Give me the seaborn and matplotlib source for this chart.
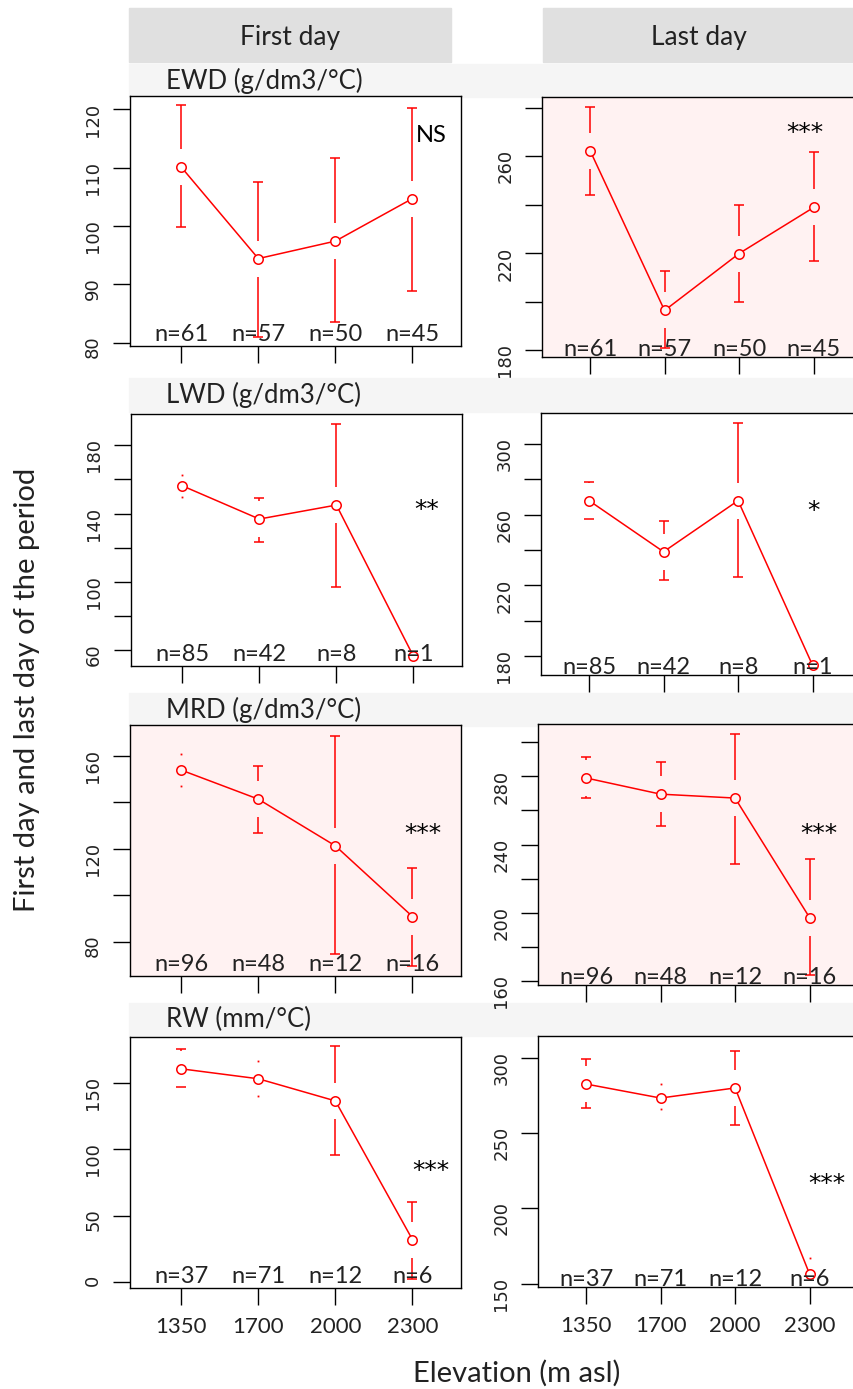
import numpy as np
import pandas as pd
import matplotlib
matplotlib.use("Agg")
import matplotlib.pyplot as plt
import seaborn as sns
from matplotlib.patches import Rectangle

sns.set_style("white")
plt.rcParams['font.family'] = ['Lato', 'DejaVu Sans']

# ---------------- data ----------------
elevations = ['1350', '1700', '2000', '2300']
columns = ['First day', 'Last day']
variables = ['EWD (g/dm3/°C)', 'LWD (g/dm3/°C)', 'MRD (g/dm3/°C)', 'RW (mm/°C)']

ewd_first_mean = [110.1, 94.4, 97.4, 104.7]
ewd_first_lo = [99.8, 81.0, 83.6, 88.9]
ewd_first_hi = [120.7, 107.5, 111.6, 120.2]
ewd_last_mean = [262.4, 196.4, 219.9, 238.9]
ewd_last_lo = [243.9, 181.1, 200.1, 216.8]
ewd_last_hi = [280.3, 212.5, 240.1, 261.8]
ewd_n = [61, 57, 50, 45]

lwd_first_mean = [156.3, 136.8, 145.0, 56.3]
lwd_first_lo = [150.0, 123.6, 97.2, np.nan]
lwd_first_hi = [162.8, 149.1, 192.6, np.nan]
lwd_last_mean = [267.9, 239.0, 267.9, 174.9]
lwd_last_lo = [257.4, 222.8, 224.5, np.nan]
lwd_last_hi = [278.6, 256.4, 311.5, np.nan]
lwd_n = [85, 42, 8, 1]

mrd_first_mean = [153.8, 141.3, 121.2, 90.8]
mrd_first_lo = [147.1, 126.7, 74.5, 69.7]
mrd_first_hi = [160.6, 155.6, 168.6, 111.6]
mrd_last_mean = [279.1, 269.6, 267.3, 197.1]
mrd_last_lo = [267.3, 251.0, 228.6, 163.4]
mrd_last_hi = [291.2, 288.6, 305.1, 231.4]
mrd_n = [96, 48, 12, 16]

rw_first_mean = [160.8, 153.3, 136.6, 32.0]
rw_first_lo = [147.0, 140.4, 95.7, 2.5]
rw_first_hi = [175.6, 166.4, 177.7, 60.5]
rw_last_mean = [282.6, 273.3, 280.0, 156.4]
rw_last_lo = [266.9, 265.8, 255.2, 147.1]
rw_last_hi = [299.0, 282.4, 304.7, 167.0]
rw_n = [37, 71, 12, 6]

significance = [['NS', '***'], ['**', '*'], ['***', '***'], ['***', '***']]

yticks = [[[80, 90, 100, 110, 120], [180, 200, 220, 240, 260, 280]],
          [[60, 80, 100, 120, 140, 160, 180], [180, 200, 220, 240, 260, 280, 300]],
          [[80, 100, 120, 140, 160], [160, 180, 200, 220, 240, 260, 280, 300]],
          [[0, 50, 100, 150], [150, 200, 250, 300]]]
ylabeled = [[[80, 90, 100, 110, 120], [180, 220, 260]],
            [[60, 100, 140, 180], [180, 220, 260, 300]],
            [[80, 120, 160], [160, 200, 240, 280]],
            [[0, 50, 100, 150], [150, 200, 250, 300]]]

# ---------------- layout (pixels) ----------------
W, H = 854, 1389
fig = plt.figure(figsize=(W / 100, H / 100), dpi=100)
fig.patch.set_facecolor('white')

def rect(x0, y0, x1, y1):
    return [x0 / W, 1 - y1 / H, (x1 - x0) / W, (y1 - y0) / H]

boxes = [[(130, 96, 461, 346), (542, 97, 862, 357)],
         [(131, 414, 462, 666), (541, 413, 861, 675)],
         [(130, 725, 461, 976), (538, 724, 858, 985)],
         [(130, 1037, 461, 1288), (538, 1036, 858, 1287)]]
ylims = [[(79.4, 122.3), (177.2, 284.5)],
         [(50.6, 198.4), (169.4, 317.4)],
         [(65.2, 173.2), (157.5, 310.8)],
         [(-4.5, 184.8), (147.8, 314.5)]]
xlims = [(0.335, 4.63), (0.355, 4.65)]
bgs = [['white', '#fff2f2'], ['white', 'white'], ['#fff2f2', '#fff2f2'], ['white', 'white']]
sig_pos = [[(0.911, 0.816), (0.822, 0.835)],
           [(0.892, 0.590), (0.853, 0.601)],
           [(0.886, 0.539), (0.879, 0.550)],
           [(0.909, 0.437), (0.902, 0.381)]]
strip_y = [(64, 97), (378, 412), (693, 726), (1003, 1036)]
n_offset = [8, 5.5]
txt = '#222222'

# header boxes
for (x0, x1), label in zip([(129, 451), (543, 854)], columns):
    fig.patches.append(Rectangle((x0 / W, 1 - 62 / H), (x1 - x0) / W, 54 / H,
                                 transform=fig.transFigure, color='#e0e0e0', zorder=-1))
    fig.text((x0 + x1) / 2 / W, 1 - 37 / H, label, ha='center', va='center',
             fontsize=19, color=txt)

# strips
for (y0, y1), label in zip(strip_y, variables):
    fig.patches.append(Rectangle((129 / W, 1 - y1 / H), (854 - 129) / W, (y1 - y0) / H,
                                 transform=fig.transFigure, color='#f5f5f5', zorder=-1))
    fig.text(166 / W, 1 - (y0 + y1) / 2 / H, label, ha='left', va='center',
             fontsize=18.5, color=txt)

series = [
    [(ewd_first_mean, ewd_first_lo, ewd_first_hi), (ewd_last_mean, ewd_last_lo, ewd_last_hi), ewd_n],
    [(lwd_first_mean, lwd_first_lo, lwd_first_hi), (lwd_last_mean, lwd_last_lo, lwd_last_hi), lwd_n],
    [(mrd_first_mean, mrd_first_lo, mrd_first_hi), (mrd_last_mean, mrd_last_lo, mrd_last_hi), mrd_n],
    [(rw_first_mean, rw_first_lo, rw_first_hi), (rw_last_mean, rw_last_lo, rw_last_hi), rw_n],
]

x = np.arange(1, 5)
for r in range(4):
    for c in range(2):
        mean, lo, hi = series[r][c]
        nvals = series[r][2]
        box = boxes[r][c]
        ax = fig.add_axes(rect(*box))
        bg = bgs[r][c]
        ax.set_facecolor(bg)
        df = pd.DataFrame({'elev': x, 'value': mean})
        sns.lineplot(data=df, x='elev', y='value', ax=ax, color='red', lw=1.1,
                     marker='o', markersize=6.8, markerfacecolor=bg,
                     markeredgecolor='red', markeredgewidth=1.1, zorder=3)
        ax.set_xlim(*xlims[c])
        ax.set_ylim(*ylims[r][c])
        hpx = box[3] - box[1]
        wpx = box[2] - box[0]
        yl = ylims[r][c]
        gap = 18 * (yl[1] - yl[0]) / hpx
        cw = 5 * (xlims[c][1] - xlims[c][0]) / wpx
        for xi, m, l, h in zip(x, mean, lo, hi):
            if np.isnan(l):
                continue
            for b, s in ((h, 1), (l, -1)):
                if (b - m) * s > gap:
                    ax.vlines(xi, m + s * gap, b, color='red', lw=1.1)
                    ax.hlines(b, xi - cw, xi + cw, color='red', lw=1.1)
                else:
                    ax.plot([xi], [b], marker='s', ms=1.3, color='red', mew=0)
        for xi, nv in zip(x, nvals):
            ax.annotate(f'n={nv}', xy=(xi, 0), xycoords=('data', 'axes fraction'),
                        xytext=(0, n_offset[c]), textcoords='offset points',
                        ha='center', va='center', fontsize=17, color=txt, zorder=4)
        sx, sy = sig_pos[r][c]
        sig = significance[r][c]
        if sig == 'NS':
            ax.text(sx, sy, sig, transform=ax.transAxes, ha='center', va='baseline',
                    fontsize=17, color='black')
        else:
            ax.text(sx, sy, sig, transform=ax.transAxes, ha='center', va='baseline',
                    fontsize=18, color='black', family='DejaVu Sans')
        ax.set_yticks(yticks[r][c])
        ax.set_yticklabels([str(t) if t in ylabeled[r][c] else '' for t in yticks[r][c]],
                           fontfamily='DejaVu Sans', fontsize=13, color=txt)
        ax.set_xticks(x)
        if r == 3:
            ax.set_xticklabels(elevations, fontsize=16, color=txt)
        else:
            ax.set_xticklabels([])
        ax.tick_params(axis='y', length=12, width=1, pad=8, labelrotation=90, left=True,
                       color='black')
        ax.tick_params(axis='x', length=12, width=1, pad=9, bottom=True, color='black')
        ax.set_xlabel('')
        ax.set_ylabel('')
        for sp in ax.spines.values():
            sp.set_color('black')
            sp.set_linewidth(1.0)
            sp.set_visible(True)

fig.text(517 / W, 1 - 1373 / H, 'Elevation (m asl)', ha='center', va='center',
         fontsize=21, color=txt)
fig.text(27 / W, 1 - 690 / H, 'First day and last day of the period', ha='center',
         va='center', rotation=90, fontsize=21, color=txt)

fig.savefig('out.png', dpi=100, facecolor='white')
